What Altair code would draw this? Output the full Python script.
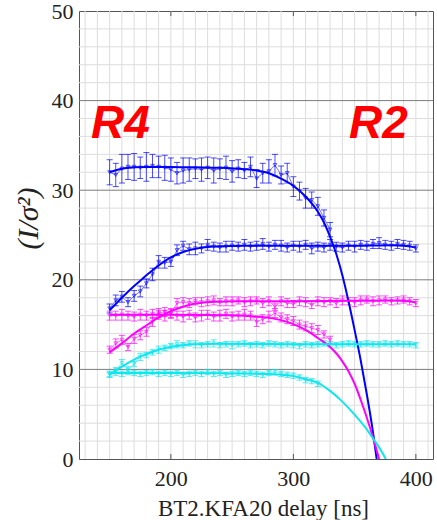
import altair as alt
import pandas as pd

# ---------------- data ----------------
x_r4 = [150, 155, 160, 165, 170, 175, 180, 185, 190, 195, 200, 205, 210, 215, 220, 225,
        230, 235, 240, 245, 250, 255, 260, 265, 270, 275, 280, 285, 290, 295, 300, 305,
        310, 315, 320, 325, 330]
x_r2 = [150, 155, 160, 165, 170, 175, 180, 185, 190, 195, 200, 205, 210, 215, 220, 225,
        230, 235, 240, 245, 250, 255, 260, 265, 270, 275, 280, 285, 290, 295, 300, 305,
        310, 315, 320, 325, 330, 335, 340, 345, 350, 355, 360, 365, 370, 375, 380, 385,
        390, 395, 400]

blue_r4 = [32.0, 31.7, 32.4, 32.6, 32.6, 32.5, 32.6, 32.7, 32.6, 32.5, 32.3, 31.9, 32.2,
           32.3, 32.4, 32.3, 32.5, 32.2, 32.4, 32.5, 32.1, 32.4, 32.2, 32.6, 31.3, 31.9,
           32.1, 32.8, 31.7, 31.9, 30.4, 29.9, 29.1, 28.9, 28.2, 26.9, 25.6]
blue_r4_err = [1.4, 1.3, 1.6, 1.4, 1.5, 1.2, 1.6, 1.3, 1.2, 1.4, 1.3, 1.2, 1.4, 1.3, 1.1,
               1.3, 1.2, 1.4, 1.1, 1.3, 1.2, 1.0, 0.9, 1.1, 1.0, 1.1, 1.3, 1.2, 1.0, 1.1,
               1.1, 1.0, 1.1, 0.9, 1.0, 0.9, 0.8]
mag_r4 = [16.0, 16.0, 16.1, 16.0, 15.9, 16.1, 16.0, 16.2, 16.1, 16.0, 16.2, 16.0, 15.9,
          16.1, 15.8, 16.0, 16.1, 15.9, 16.0, 16.2, 15.9, 16.0, 16.1, 16.0, 15.3, 15.6,
          15.9, 16.3, 15.8, 15.6, 15.4, 15.0, 14.8, 14.6, 14.4, 13.9, 13.3]
mag_r4_err = [0.5, 0.5, 0.6, 0.5, 0.5, 0.6, 0.5, 0.5, 0.5, 0.6, 0.5, 0.5, 0.6, 0.5, 0.5,
              0.6, 0.5, 0.5, 0.6, 0.5, 0.5, 0.5, 0.6, 0.5, 0.5, 0.5, 0.6, 0.5, 0.5, 0.5,
              0.5, 0.5, 0.5, 0.5, 0.5, 0.4, 0.4]
cyan_r4 = [9.4, 9.6, 9.5, 9.7, 9.6, 9.5, 9.6, 9.7, 9.5, 9.6, 9.5, 9.6, 9.4, 9.5, 9.6, 9.5,
           9.7, 9.5, 9.6, 9.4, 9.5, 9.6, 9.5, 9.6, 9.5, 9.4, 9.6, 9.7, 9.5, 9.4, 9.3, 9.1,
           8.8, 8.7, 8.4]
cyan_r4_err = [0.3, 0.3, 0.3, 0.3, 0.3, 0.3, 0.3, 0.3, 0.3, 0.3, 0.3, 0.3, 0.3, 0.3, 0.3,
               0.3, 0.3, 0.3, 0.3, 0.3, 0.3, 0.3, 0.3, 0.3, 0.3, 0.3, 0.3, 0.3, 0.3, 0.3,
               0.3, 0.3, 0.3, 0.3, 0.3]

blue_r2 = [16.8, 17.7, 18.1, 17.5, 18.2, 18.7, 19.6, 20.6, 22.0, 21.9, 22.0, 23.3, 23.8,
           23.4, 23.5, 23.5, 23.9, 23.7, 23.6, 23.7, 23.8, 23.7, 23.9, 23.7, 23.8, 24.0,
           23.7, 23.9, 23.8, 23.6, 23.8, 23.7, 23.9, 23.5, 23.7, 23.6, 23.9, 23.7, 23.6,
           23.8, 23.7, 23.9, 23.8, 24.0, 24.1, 23.9, 23.8, 24.0, 23.9, 23.8, 23.5]
blue_r2_err = [0.5, 0.6, 0.6, 0.5, 0.6, 0.6, 0.5, 0.7, 0.7, 0.6, 0.5, 0.6, 0.5, 0.6, 0.7,
               0.5, 0.6, 0.5, 0.5, 0.6, 0.5, 0.5, 0.6, 0.5, 0.5, 0.6, 0.5, 0.5, 0.6, 0.5,
               0.5, 0.6, 0.5, 0.6, 0.5, 0.5, 0.6, 0.5, 0.5, 0.5, 0.6, 0.5, 0.5, 0.5, 0.6,
               0.5, 0.5, 0.5, 0.5, 0.5, 0.4]
mag_r2 = [12.2, 12.9, 13.3, 12.5, 13.4, 13.8, 14.2, 15.3, 16.3, 16.4, 16.3, 17.4, 17.5,
          17.4, 17.6, 17.5, 17.6, 17.7, 17.5, 17.6, 17.6, 17.7, 17.5, 17.6, 17.7, 17.4,
          17.6, 17.0, 17.6, 17.4, 17.3, 17.6, 17.5, 17.2, 17.6, 17.5, 17.6, 17.4, 17.7,
          17.6, 17.5, 17.7, 17.8, 17.6, 17.7, 17.8, 17.6, 17.7, 17.8, 17.6, 17.4]
mag_r2_err = [0.4, 0.5, 0.5, 0.4, 0.5, 0.5, 0.5, 0.5, 0.5, 0.5, 0.5, 0.5, 0.5, 0.5, 0.4,
              0.5, 0.5, 0.5, 0.4, 0.5, 0.5, 0.4, 0.5, 0.5, 0.4, 0.5, 0.5, 0.4, 0.5, 0.5,
              0.4, 0.5, 0.5, 0.4, 0.5, 0.5, 0.4, 0.5, 0.5, 0.4, 0.5, 0.5, 0.4, 0.5, 0.5,
              0.4, 0.4, 0.4, 0.4, 0.4, 0.4]
cyan_r2 = [9.5, 9.9, 10.7, 10.0, 10.6, 11.4, 11.6, 11.9, 12.2, 12.4, 12.6, 12.8, 12.7,
           12.9, 12.8, 12.7, 12.8, 12.9, 12.7, 12.8, 12.7, 12.8, 12.9, 12.7, 12.8, 12.7,
           12.9, 12.8, 12.7, 12.8, 12.7, 12.6, 12.8, 12.7, 12.8, 12.9, 12.8, 12.7, 12.8,
           12.9, 12.8, 12.8, 12.9, 12.8, 12.8, 12.9, 12.8, 12.9, 12.8, 12.8, 12.7]
cyan_r2_err = [0.3, 0.3, 0.4, 0.3, 0.3, 0.4, 0.3, 0.3, 0.4, 0.3, 0.3, 0.4, 0.3, 0.3, 0.4,
               0.3, 0.3, 0.4, 0.3, 0.3, 0.4, 0.3, 0.3, 0.3, 0.3, 0.3, 0.3, 0.3, 0.3, 0.3,
               0.3, 0.3, 0.3, 0.3, 0.3, 0.3, 0.3, 0.3, 0.3, 0.3, 0.3, 0.3, 0.3, 0.3, 0.3,
               0.3, 0.3, 0.3, 0.3, 0.3, 0.3]

# fitted curves
blue_r4_fit_x = [150, 160, 170, 180, 200, 220, 240, 260, 270, 280, 290, 300, 310, 320,
                 325, 330, 335, 340, 345, 350, 355, 360, 365, 368]
blue_r4_fit_y = [32.0, 32.4, 32.55, 32.6, 32.6, 32.55, 32.5, 32.35, 32.2, 31.9, 31.3,
                 30.5, 29.3, 27.6, 26.4, 24.8, 22.9, 20.5, 17.6, 14.4, 11.0, 7.2, 3.0, 0.0]
mag_r4_fit_x = [150, 200, 250, 270, 280, 290, 300, 310, 320, 330, 335, 340, 345, 350,
                355, 360, 365, 370]
mag_r4_fit_y = [16.1, 16.1, 16.05, 15.9, 15.75, 15.5, 15.05, 14.4, 13.5, 12.5, 11.8,
                10.9, 9.8, 8.4, 6.6, 4.6, 2.4, 0.0]
cyan_r4_fit_x = [150, 200, 250, 280, 290, 300, 310, 320, 330, 340, 350, 360, 365, 370,
                 375.5]
cyan_r4_fit_y = [9.6, 9.6, 9.55, 9.5, 9.4, 9.25, 8.9, 8.5, 7.6, 6.4, 4.95, 3.3, 2.3,
                 1.3, 0.0]
blue_r2_fit_x = [150, 160, 170, 175, 180, 190, 200, 210, 220, 230, 240, 260, 300, 350,
                 380, 390, 400]
blue_r2_fit_y = [16.6, 18.0, 19.3, 19.9, 20.5, 21.6, 22.5, 23.1, 23.45, 23.65, 23.75,
                 23.8, 23.8, 23.8, 23.85, 23.8, 23.6]
mag_r2_fit_x = [150, 160, 170, 180, 190, 200, 210, 220, 230, 240, 260, 300, 350, 380,
                395, 400]
mag_r2_fit_y = [11.9, 12.9, 14.0, 14.9, 15.8, 16.5, 17.0, 17.35, 17.5, 17.55, 17.6,
                17.6, 17.65, 17.7, 17.6, 17.45]
cyan_r2_fit_x = [150, 160, 170, 180, 190, 200, 210, 220, 240, 300, 400]
cyan_r2_fit_y = [9.4, 10.3, 11.1, 11.7, 12.2, 12.5, 12.7, 12.8, 12.85, 12.8, 12.8]

series_names = ["blue_R4", "blue_R2", "mag_R4", "mag_R2", "cyan_R4", "cyan_R2"]
series_colors = ["#0000ff", "#0000ff", "#ff00ff", "#ff00ff", "#10e6ee", "#10e6ee"]

x_major = [200, 300, 400]
y_major = [0, 10, 20, 30, 40, 50]
x_minor = [130, 140, 150, 160, 170, 180, 190, 200, 210, 220, 230, 240, 250, 260, 270,
           280, 290, 300, 310, 320, 330, 340, 350, 360, 370, 380, 390, 400, 410]
y_minor = [2, 4, 6, 8, 12, 14, 16, 18, 22, 24, 26, 28, 32, 34, 36, 38, 42, 44, 46, 48]
y_grid = [10, 20, 30, 40]

x_title = "BT2.KFA20 delay [ns]"
y_title = "(I/σ²)"

# ---------------- tables ----------------
def pts(name, xs, ys, es):
    return pd.DataFrame({"x": xs, "y": ys, "err": es, "series": name})

def fit(name, xs, ys):
    return pd.DataFrame({"x": xs, "y": ys, "series": name})

pts_df = pd.concat([
    pts("blue_R4", x_r4, blue_r4, blue_r4_err),
    pts("blue_R2", x_r2, blue_r2, blue_r2_err),
    pts("mag_R4", x_r4, mag_r4, mag_r4_err),
    pts("mag_R2", x_r2, mag_r2, mag_r2_err),
    pts("cyan_R4", x_r4[:len(cyan_r4)], cyan_r4, cyan_r4_err),
    pts("cyan_R2", x_r2, cyan_r2, cyan_r2_err),
], ignore_index=True)
pts_df["lo"] = pts_df["y"] - pts_df["err"]
pts_df["hi"] = pts_df["y"] + pts_df["err"]

fit_df = pd.concat([
    fit("blue_R4", blue_r4_fit_x, blue_r4_fit_y),
    fit("blue_R2", blue_r2_fit_x, blue_r2_fit_y),
    fit("mag_R4", mag_r4_fit_x, mag_r4_fit_y),
    fit("mag_R2", mag_r2_fit_x, mag_r2_fit_y),
    fit("cyan_R4", cyan_r4_fit_x, cyan_r4_fit_y),
    fit("cyan_R2", cyan_r2_fit_x, cyan_r2_fit_y),
], ignore_index=True)

SERIF = "Liberation Serif"
xs = alt.Scale(domain=[125, 414], nice=False, zero=False)
ys = alt.Scale(domain=[0, 50], nice=False, zero=False)
cs = alt.Scale(domain=series_names, range=series_colors)
color = alt.Color("series:N", scale=cs, legend=None)

xaxis = alt.Axis(values=x_major, titlePadding=8, titleFontSize=23, titleX=184,
                 labelPadding=9)
yaxis = alt.Axis(values=y_major, titleFontSize=30, titleFontStyle="italic",
                 titleX=-51, titleY=207, titleAlign="center", titleBaseline="middle",
                 labelPadding=6)


def X(field="x"):
    return alt.X(f"{field}:Q", scale=xs, axis=xaxis, title=x_title)


def Y(field="y"):
    return alt.Y(f"{field}:Q", scale=ys, axis=yaxis, title=y_title)


# ---------------- grid ----------------
gx = alt.Chart(pd.DataFrame({"x": x_minor})).mark_rule(color="#dddddd", strokeWidth=1).encode(
    x=X())
gy = alt.Chart(pd.DataFrame({"y": y_minor})).mark_rule(color="#dddddd", strokeWidth=1).encode(
    y=Y())
gmaj = alt.Chart(pd.DataFrame({"y": y_grid})).mark_rule(color="#7c7c7c", strokeWidth=1).encode(
    y=Y())

# ---------------- data with error bars ----------------
base = alt.Chart(pts_df)
dline = base.mark_line(strokeWidth=1, opacity=0.55).encode(
    x=X(), y=Y(), color=color, detail="series:N", order="x:Q")
ebar = base.mark_rule(strokeWidth=1, opacity=0.7).encode(
    x=X(), y=Y("lo"), y2="hi:Q", color=color)
cap_lo = base.mark_tick(orient="horizontal", size=6, thickness=1, opacity=0.7).encode(
    x=X(), y=Y("lo"), color=color)
cap_hi = base.mark_tick(orient="horizontal", size=6, thickness=1, opacity=0.7).encode(
    x=X(), y=Y("hi"), color=color)
marks = base.mark_point(shape="triangle-down", size=14, filled=False, strokeWidth=0.8,
                        opacity=0.75).encode(x=X(), y=Y(), color=color)

# ---------------- fits ----------------
fits = alt.Chart(fit_df).mark_line(strokeWidth=2, interpolate="monotone", clip=True).encode(
    x=X(), y=Y(), color=color, detail="series:N", order="x:Q")

# inward major ticks on top and bottom
tick_df = pd.DataFrame({"x": x_major})
ttop = alt.Chart(tick_df).mark_rule(color="#555555", strokeWidth=1).encode(
    x=X(), y=alt.value(0), y2=alt.value(5))
tbot = alt.Chart(tick_df).mark_rule(color="#555555", strokeWidth=1).encode(
    x=X(), y=alt.value(443), y2=alt.value(448))

# ---------------- labels ----------------
def label(txt, px):
    return alt.Chart(pd.DataFrame({"t": [txt]})).mark_text(
        align="left", baseline="alphabetic", font="Liberation Sans", fontSize=46,
        fontWeight="bold", fontStyle="italic", color="#ff0000").encode(
        text="t:N", x=alt.value(px), y=alt.value(127))

chart = alt.layer(
    gx, gy, gmaj, dline, ebar, cap_lo, cap_hi, marks, fits, ttop, tbot,
    label("R4", 12), label("R2", 270)
).properties(
    width=354, height=448,
    autosize=alt.AutoSizeParams(type="none"),
    padding={"left": 79, "top": 11, "right": 4, "bottom": 61},
    background="white",
).configure(
    font=SERIF
).configure_axis(
    grid=False, ticks=False, tickSize=0, domain=False,
    labelFont=SERIF, labelFontSize=22, labelFontWeight="normal", labelColor="#222222",
    titleFont=SERIF, titleFontWeight="normal", titleColor="#222222",
).configure_view(stroke="#555555", strokeWidth=1)

chart.save("out.html", embed_options={"renderer": "svg", "actions": False})
